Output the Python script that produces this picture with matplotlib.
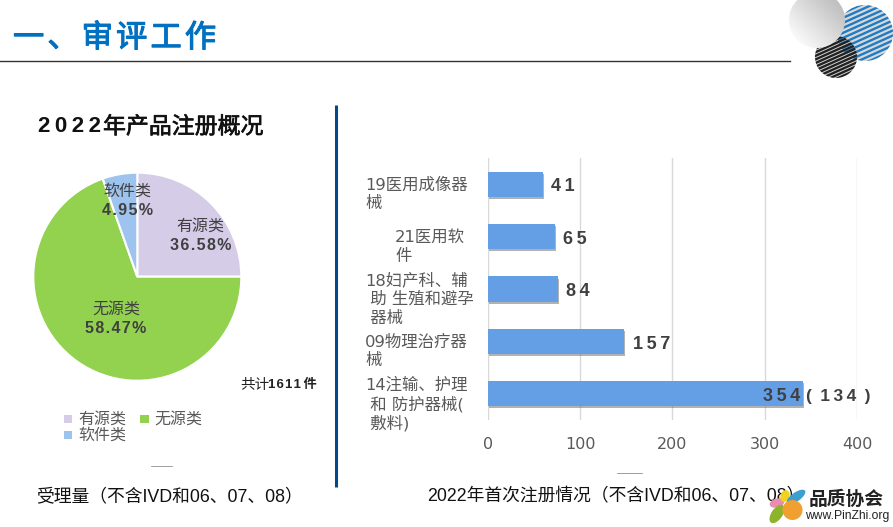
"""Recreate the 2022 registration overview slide: pie of accepted filings, bars of first registrations."""
import matplotlib

matplotlib.use("Agg")
import matplotlib.pyplot as plt
import matplotlib.patheffects as pe
import numpy as np
from matplotlib.patches import Circle, Ellipse, Rectangle

plt.rcParams["font.family"] = ["Liberation Sans", "Noto Sans CJK SC", "DejaVu Sans"]

W, H = 893, 527
CJK = ["Noto Sans CJK SC", "DejaVu Sans"]
WIDE = ["DejaVu Sans", "Noto Sans CJK SC"]

# pie: drawn shares differ from the printed percentages on the slide
pie_names = ["有源类", "无源类", "软件类"]
pie_drawn_shares = [25.0, 69.6, 5.4]
pie_printed = ["36.58%", "58.47%", "4.95%"]
pie_colors = ["#D5CCE8", "#92D24F", "#9DC3EE"]

# bars, bottom to top: drawn lengths differ from the printed counts too
bar_drawn = [342, 148, 76, 73, 60]
bar_printed = ["354", "157", "84", "65", "41"]
bar_labels = [
    ["14注输、护理", " 和 防护器械(", " 敷料)"],
    ["09物理治疗器", "械"],
    ["18妇产科、辅", " 助 生殖和避孕", " 器械"],
    ["21医用软", "件"],
    ["19医用成像器", "械"],
]
bar_label_x = [365, 365, 365, 395, 365]
x_ticks = [0, 100, 200, 300, 400]


def spaced(s, gap="\u2009"):
    return gap.join(s)


def axes_px(left, top, right, bottom):
    return fig.add_axes([left / W, 1 - bottom / H, (right - left) / W, (bottom - top) / H])


fig = plt.figure(figsize=(W / 100, H / 100), dpi=100, facecolor="white")

# pie
cx, cy, r = 137.3, 276.7, 104
ax_pie = axes_px(cx - r, cy - r, cx + r, cy + r)
ax_pie.pie(pie_drawn_shares, colors=pie_colors, startangle=90, counterclock=False,
           wedgeprops={"edgecolor": "white", "linewidth": 1.5})
ax_pie.set_xlim(-1, 1)
ax_pie.set_ylim(-1, 1)

# bars
ax_bar = axes_px(487.7, 158, 857, 420)
pos = np.arange(len(bar_drawn))
bars = ax_bar.barh(pos, bar_drawn, height=0.48, color="#649FE6", zorder=3)
for b in bars:
    b.set_path_effects([pe.withSimplePatchShadow(offset=(0.7, -1.5), shadow_rgbFace="#555555", alpha=0.45)])
ax_bar.set_xlim(0, 400)
ax_bar.set_ylim(-0.5, 4.5)
ax_bar.set_yticks([])
ax_bar.set_xticks(x_ticks)
ax_bar.tick_params(axis="x", length=0, pad=12, labelsize=11.5, labelcolor="#595959")
for t in ax_bar.get_xticklabels():
    t.set_family("DejaVu Sans")
ax_bar.grid(axis="x", color="#D9D9D9", linewidth=1, zorder=0)
ax_bar.set_axisbelow(True)
for s in ax_bar.spines.values():
    s.set_visible(False)

for i, val in enumerate(bar_printed):
    if i == 0:
        ax_bar.text(bar_drawn[i] - 3, i - 0.05, spaced(val), ha="right", va="center", fontsize=13,
                    fontweight="bold", color="#404040", zorder=5)
        ax_bar.text(bar_drawn[i] + 3, i - 0.05, spaced("(134)").replace("(", "( ").replace(")", " )"),
                    ha="left", va="center", fontsize=12.5, fontweight="bold", color="#404040", zorder=5)
    else:
        ax_bar.text(bar_drawn[i] + 9, i - 0.05, spaced(val), ha="left", va="center", fontsize=13,
                    fontweight="bold", color="#404040", zorder=5)

# overlay in pixel coordinates for the slide furniture
ov = fig.add_axes([0, 0, 1, 1], zorder=10)
ov.set_xlim(0, W)
ov.set_ylim(H, 0)
ov.axis("off")
ov.patch.set_alpha(0)

title = ov.text(13, 38, spaced("一、审评工作", "\u200a"), fontsize=22.5, color="#0070C0", family=CJK,
                va="center", ha="left")
title.set_path_effects([pe.withStroke(linewidth=0.8, foreground="#0070C0")])
ov.plot([0, 790], [60.5, 60.5], color="#333333", lw=1)
ov.plot([336, 336], [105, 487], color="#004A8C", lw=2.2, solid_capstyle="butt")

ov.text(38, 127, spaced("2022"), fontsize=16, fontweight="bold", color="#111111", va="center", ha="left")
heading = ov.text(103, 127, "年产品注册概况", fontsize=16.5, color="#111111", family=CJK,
                  va="center", ha="left")
heading.set_path_effects([pe.withStroke(linewidth=0.5, foreground="#111111")])

# labels inside the pie
pie_label_xy = [(200.5, 226, 246), (116, 309, 328.5), (127.5, 191, 210.5)]
for name, pct, (x, y1, y2) in zip(pie_names, pie_printed, pie_label_xy):
    ov.text(x, y1, name, fontsize=11.5, color="#404040", family=CJK, ha="center", va="center")
    ov.text(x, y2, spaced(pct, "\u200a"), fontsize=11.5, fontweight="bold", color="#404040",
            ha="center", va="center")

ov.text(240, 385, "共计", fontsize=10.5, color="#222222", family=CJK, ha="left", va="center")
ov.text(268, 385, spaced("1611", "\u200a") + "\u2009件", fontsize=9.5, fontweight="bold", color="#222222",
        ha="left", va="center")

# legend
legend_xy = [(63.5, 419), (140, 419), (63.5, 435)]
for name, col, (x, y) in zip(pie_names, pie_colors, legend_xy):
    ov.add_patch(Rectangle((x, y - 4.2), 8.5, 8.5, color=col, lw=0))
    ov.text(x + 14.5, y, name, fontsize=11.5, color="#595959", family=CJK, ha="left", va="center")

# bar category labels
for i, lines in enumerate(bar_labels):
    n = len(lines)
    y_mid = 158 + (4.5 - i) * 52.4 + 10
    for j, line in enumerate(lines):
        ov.text(bar_label_x[i], y_mid + (j - (n - 1) / 2) * 19, line, fontsize=11.8, color="#595959",
                family=WIDE, ha="left", va="center")

# tiny stray marks under each chart
ov.plot([151, 172], [465.5, 465.5], color="#777777", lw=0.5)
ov.plot([617, 642], [473, 473], color="#777777", lw=0.5)

ov.text(36, 496.5, "受理量（不含IVD和06、07、08）", fontsize=12.8, color="#111111", ha="left", va="center")
ov.text(427, 496.5, "2022年首次注册情况（不含IVD和06、07、08）", fontsize=12.8, color="#111111", ha="left", va="center")

# decorative circles, top right
for (x, y, rad, col, gap) in [(865, 33, 28, "#1F7CC4", 5.0), (836, 57, 21, "#222222", 3.6)]:
    clip = Circle((x, y), rad, transform=ov.transData, facecolor="#D8D8D8", lw=0)
    ov.add_patch(clip)
    for off in np.arange(-50, 50, gap):
        ln, = ov.plot([x - 40, x + 40], [y + off + 18, y + off - 18], color=col, lw=1.7)
        ln.set_clip_path(clip)

u = np.linspace(0, 1, 64)
grad = 0.97 - 0.22 * np.clip(0.75 * u[None, :] + 0.75 * (1 - u[:, None]) - 0.25, 0, 1)
img = ov.imshow(grad, extent=(789, 845, 48, -8), cmap="gray", vmin=0, vmax=1, zorder=4, aspect="auto")
img.set_clip_path(Circle((817, 20), 28, transform=ov.transData))
ov.set_xlim(0, W)
ov.set_ylim(H, 0)

# association logo, bottom right
petals = [
    (777, 503, 15, 9, -15, "#E88FB0"),
    (785, 496, 9, 12, 20, "#F2D21F"),
    (796, 497, 22, 9, -35, "#3D9FD0"),
    (777, 514, 11, 21, 35, "#8DB32B"),
]
for x, y, w, h, ang, col in petals:
    ov.add_patch(Ellipse((x, y), w, h, angle=ang, color=col, lw=0, zorder=6))
ov.add_patch(Circle((792.5, 510), 10, color="#F0A030", lw=0, zorder=6))
ov.text(846, 499, "品质协会", fontsize=13.5, fontweight="bold", color="#222222", family=CJK,
        ha="center", va="center", zorder=7)
ov.text(847, 516, "www.PinZhi.org", fontsize=8.7, color="#222222", ha="center", va="center", zorder=7)

fig.savefig("out.png", dpi=100)
